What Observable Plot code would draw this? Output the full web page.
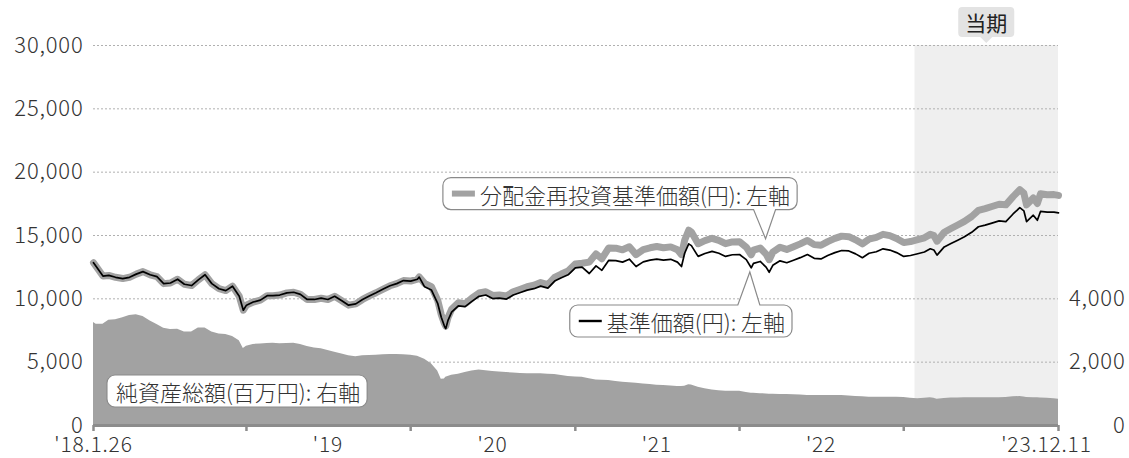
<!DOCTYPE html>
<html><head><meta charset="utf-8">
<script src="https://cdn.jsdelivr.net/npm/d3@7"></script>
<script src="https://cdn.jsdelivr.net/npm/@observablehq/plot@0.6"></script>
<style>
html,body{margin:0;padding:0;background:#fff;}
#chart svg{display:block;}
</style>
</head><body><div id="chart"></div>
<script>
// ---- data ----
const dates = [
  "2018-01-26","2018-02-01","2018-02-16","2018-03-01","2018-03-16","2018-04-01","2018-04-16","2018-05-01","2018-05-16","2018-06-01","2018-06-16","2018-07-01","2018-07-16","2018-08-01","2018-08-16","2018-09-01","2018-09-16","2018-10-01","2018-10-16","2018-11-01","2018-11-16","2018-12-01","2018-12-16","2018-12-25",
  "2019-01-01","2019-01-16","2019-02-01","2019-02-16","2019-03-01","2019-03-16","2019-04-01","2019-04-16","2019-05-01","2019-05-16","2019-06-01","2019-06-16","2019-07-01","2019-07-16","2019-08-01","2019-08-16","2019-09-01","2019-09-16","2019-10-01","2019-10-16","2019-11-01","2019-11-16","2019-12-01","2019-12-16",
  "2020-01-01","2020-01-16","2020-01-20","2020-02-01","2020-02-16","2020-03-01","2020-03-09","2020-03-16","2020-03-19","2020-03-24","2020-04-01","2020-04-16","2020-05-01","2020-05-16","2020-06-01","2020-06-16","2020-07-01","2020-07-16","2020-08-01","2020-08-16","2020-09-01","2020-09-16","2020-10-01","2020-10-16","2020-11-01","2020-11-16","2020-12-01","2020-12-16",
  "2021-01-01","2021-01-16","2021-02-01","2021-02-16","2021-03-01","2021-03-16","2021-04-01","2021-04-16","2021-05-01","2021-05-16","2021-06-01","2021-06-16","2021-07-01","2021-07-16","2021-08-01","2021-08-16","2021-08-25","2021-09-01","2021-09-10","2021-09-16","2021-10-01","2021-10-16","2021-11-01","2021-11-16","2021-12-01","2021-12-16",
  "2022-01-01","2022-01-16","2022-01-27","2022-02-01","2022-02-16","2022-03-01","2022-03-08","2022-03-16","2022-04-01","2022-04-16","2022-05-01","2022-05-16","2022-06-01","2022-06-16","2022-07-01","2022-07-16","2022-08-01","2022-08-16","2022-09-01","2022-09-16","2022-10-01","2022-10-16","2022-11-01","2022-11-16","2022-12-01","2022-12-16",
  "2023-01-01","2023-01-16","2023-02-01","2023-02-16","2023-03-01","2023-03-09","2023-03-16","2023-04-01","2023-04-16","2023-05-01","2023-05-16","2023-06-01","2023-06-16","2023-07-01","2023-07-16","2023-08-01","2023-08-16","2023-09-01","2023-09-16","2023-09-25","2023-10-01","2023-10-16","2023-10-25","2023-11-01","2023-11-16","2023-12-01","2023-12-11"
];
// 基準価額 (円)
const nav = [
  12850,12550,11800,11850,11700,11600,11700,11950,12150,11900,11750,11200,11250,11550,11150,11050,11500,11900,11200,10800,10650,11000,10200,9100,
  9500,9750,9900,10250,10250,10300,10470,10520,10350,9950,9950,10050,9950,10200,9850,9500,9600,9950,10230,10480,10770,11030,11200,11440,
  11400,11550,11720,10950,10700,9650,8550,7850,7650,8300,8950,9450,9380,9800,10200,10300,10020,10060,9980,10300,10500,10690,10800,11000,10850,11400,11670,11900,
  12450,12500,12000,12600,12250,13030,13020,12900,13130,12550,12920,13050,13140,13050,13120,12900,12550,13600,14340,14200,13350,13580,13750,13600,13350,13480,
  13500,13100,12450,12800,12950,12500,12100,12650,13000,12850,13050,13250,13500,13200,13150,13420,13650,13815,13780,13550,13250,13600,13720,13950,13850,13650,
  13350,13420,13560,13700,13950,13850,13450,14100,14370,14630,14900,15250,15690,15820,15980,16150,16100,16700,17200,16950,16100,16600,16200,16900,16840,16850,16790
];
// 分配金再投資基準価額 (円)
const navReinvested = [
  12850,12550,11800,11850,11700,11600,11700,11950,12150,11900,11750,11200,11250,11550,11150,11050,11500,11900,11200,10800,10650,11000,10200,9100,
  9500,9750,9900,10250,10250,10300,10470,10520,10350,9950,9950,10050,9950,10200,9850,9500,9600,9950,10230,10480,10770,11030,11200,11440,
  11400,11550,11720,11220,10970,9890,8760,8050,7840,8510,9170,9690,9610,10050,10460,10560,10270,10310,10230,10560,10760,10960,11070,11280,11120,11690,11960,12200,
  12760,12810,12900,13550,13170,14010,14000,13870,14110,13490,13890,14030,14130,14030,14100,13870,13490,14620,15420,15270,14350,14600,14780,14620,14350,14490,
  14510,14080,13470,13850,14010,13530,13090,13690,14070,13900,14120,14340,14610,14280,14230,14520,14770,14950,14910,14660,14340,14720,14850,15090,14990,14770,
  14440,14520,14670,14820,15090,14990,14550,15260,15550,15830,16120,16500,16980,17120,17290,17470,17420,18070,18610,18340,17420,17960,17530,18290,18220,18230,18170
];
// 純資産総額 (百万円, right axis)
const netAssets = [
  3250,3200,3200,3320,3340,3400,3470,3500,3440,3300,3190,3070,3030,3040,2950,2950,3080,3080,2950,2890,2870,2810,2680,2430,
  2500,2560,2575,2590,2600,2585,2590,2600,2560,2495,2450,2420,2370,2310,2260,2200,2170,2205,2210,2215,2235,2240,2240,2235,
  2220,2190,2160,2090,1950,1720,1460,1470,1520,1550,1585,1620,1670,1720,1755,1730,1705,1690,1672,1657,1645,1635,1633,1633,1620,1612,1580,1550,
  1535,1525,1480,1440,1430,1420,1392,1365,1350,1335,1312,1292,1275,1260,1245,1232,1232,1240,1290,1280,1205,1160,1122,1098,1083,1083,
  1080,1045,1018,1015,1005,998,990,985,979,979,975,960,947,947,947,947,947,947,935,918,905,895,892,894,894,894,
  885,860,845,860,875,860,832,850,865,872,875,875,878,880,880,876,885,905,915,900,885,880,875,872,860,845,830
];
const leftTicks = [0, 5000, 10000, 15000, 20000, 25000, 30000];
const rightTicks = [0, 2000, 4000];
const rightFactor = 2.5; // right axis 4,000 aligns with left 10,000
const xTickDates = ["2018-01-26","2019-01-01","2020-01-01","2021-01-01","2022-01-01","2023-01-01","2023-12-11"];
const xLabelDates = ["2018-01-26","2019-07-01","2020-07-01","2021-07-01","2022-07-01","2023-12-11"];
const xLabels = ["'18.1.26","'19","'20","'21","'22","'23.12.11"];
const periodStart = "2023-01-26", periodEnd = "2023-12-11", periodLabel = "当期";
const notes = [
  {label: "分配金再投資基準価額(円): 左軸", swatch: "#a2a2a2", swatchWidth: 6, at: ["2020-06-04", 18270], tip: ["2022-03-01", 14700], side: "bottom"},
  {label: "基準価額(円): 左軸", swatch: "#000", swatchWidth: 2.4, at: ["2021-03-13", 8210], tip: ["2022-01-25", 12080], side: "top"},
  {label: "純資産総額(百万円): 右軸", at: ["2018-03-18", 2684]}
];

// ---- chart ----
const parse = d3.utcParse("%Y-%m-%d");
const rows = dates.map((d, i) => ({date: parse(d), nav: nav[i], reinv: navReinvested[i], net: netAssets[i]}));
const labelRows = xLabelDates.map((d, i) => ({date: parse(d), label: xLabels[i], end: i === xLabels.length - 1}));
const FONT = "'Noto Sans CJK JP', 'Noto Sans', sans-serif";
const fmt = d3.format(",");

const chart = Plot.plot({
  width: 1129, height: 458,
  marginLeft: 93, marginRight: 71, marginTop: 45, marginBottom: 33,
  style: {fontFamily: FONT, fontSize: "22px", fontWeight: 300, letterSpacing: "0.8px", color: "#333", background: "#fff", overflow: "visible"},
  x: {type: "utc", domain: [parse(dates[0]), parse(dates[dates.length - 1])]},
  y: {domain: [0, 30000]},
  marks: [
    Plot.rect([{s: parse(periodStart), e: parse(periodEnd)}], {x1: "s", x2: "e", y1: 0, y2: 30000, fill: "#efefef"}),
    Plot.gridY(leftTicks.filter(d => d > 0), {stroke: "#b0b0b0", strokeOpacity: 1, strokeDasharray: "2,2", strokeWidth: 1}),
    Plot.areaY(rows, {x: "date", y: d => d.net * rightFactor, fill: "#a2a2a2"}),
    Plot.lineY(rows, {x: "date", y: "reinv", stroke: "#a2a2a2", strokeWidth: 7, strokeLinejoin: "round"}),
    Plot.lineY(rows, {x: "date", y: "nav", stroke: "#000", strokeWidth: 1.7, strokeLinejoin: "round"}),
    Plot.ruleY([0], {stroke: "#8c8c8c", strokeWidth: 3}),
    Plot.axisX(xTickDates.map(parse), {tickSize: 6, tickFormat: () => "", stroke: "#8c8c8c", strokeWidth: 2.5, label: null}),
    Plot.text(labelRows.filter(d => !d.end), {x: "date", text: "label", frameAnchor: "bottom", dy: 26, fontSize: 21, fill: "#333"}),
    Plot.text(labelRows.filter(d => d.end), {x: "date", text: "label", frameAnchor: "bottom", dy: 26, dx: -12, fontSize: 21, fill: "#333"}),
    Plot.axisY(leftTicks, {tickSize: 0, tickPadding: 10, tickFormat: fmt, fontSize: 22, label: null, fill: "#333"}),
    Plot.text(rightTicks, {y: d => d * rightFactor, text: d => fmt(d), frameAnchor: "right", dx: 67, textAnchor: "end", fontSize: 22, fill: "#333"})
  ]
});
document.getElementById("chart").append(chart);

// ---- callouts (positioned through the chart's scales) ----
const X = chart.scale("x"), Y = chart.scale("y");
const svg = d3.select(chart);
const g = svg.append("g").attr("font-family", FONT).attr("text-anchor", "start").attr("letter-spacing", "0px");

function bubble(x0, y0, x1, y1, r, p) {
  let s = `M${x0 + r},${y0}`;
  if (p && p.side === "top") s += `L${p.b0},${y0}L${p.tx},${p.ty}L${p.b1},${y0}`;
  s += `L${x1 - r},${y0}A${r},${r} 0 0 1 ${x1},${y0 + r}L${x1},${y1 - r}A${r},${r} 0 0 1 ${x1 - r},${y1}`;
  if (p && p.side === "bottom") s += `L${p.b1},${y1}L${p.tx},${p.ty}L${p.b0},${y1}`;
  s += `L${x0 + r},${y1}A${r},${r} 0 0 1 ${x0},${y1 - r}L${x0},${y0 + r}A${r},${r} 0 0 1 ${x0 + r},${y0}Z`;
  return s;
}

notes.forEach(n => {
  const tx = X.apply(parse(n.at[0])), ty = Y.apply(n.at[1]);
  const grp = g.append("g");
  const path = grp.append("path");
  const t = grp.append("text").attr("x", tx).attr("y", ty).attr("text-anchor", "start")
    .attr("dominant-baseline", "central").attr("font-size", 22).attr("font-weight", 300)
    .attr("fill", "#333").text(n.label);
  const bb = t.node().getBBox();
  const padL = n.swatch ? 37 : 9;
  const x0 = bb.x - padL, x1 = bb.x + bb.width + 7, y0 = ty - 16, y1 = ty + 16;
  let p = null;
  if (n.tip) {
    const px = X.apply(parse(n.tip[0])), py = Y.apply(n.tip[1]);
    p = {side: n.side, tx: px, ty: py, b0: px - 12, b1: px + 10};
  }
  path.attr("d", bubble(x0, y0, x1, y1, 8, p)).attr("fill", "#fff").attr("stroke", "#8a8a8a").attr("stroke-width", 1.2);
  if (n.swatch) {
    grp.append("line").attr("x1", x0 + 9).attr("x2", x0 + 32).attr("y1", ty).attr("y2", ty)
      .attr("stroke", n.swatch).attr("stroke-width", n.swatchWidth);
  }
});

// 当期 label
{
  const cx = (X.apply(parse(periodStart)) + X.apply(parse(periodEnd))) / 2;
  const top = Y.apply(30000);
  const cy = top - 23;
  const grp = g.append("g");
  const path = grp.append("path");
  const t = grp.append("text").attr("x", cx).attr("y", cy).attr("text-anchor", "middle")
    .attr("dominant-baseline", "central").attr("font-size", 21).attr("font-weight", 400)
    .attr("fill", "#222").text(periodLabel);
  const bb = t.node().getBBox();
  const x0 = bb.x - 7, x1 = bb.x + bb.width + 7, y0 = cy - 15, y1 = cy + 15;
  path.attr("d", bubble(x0, y0, x1, y1, 4, {side: "bottom", tx: cx, ty: top - 2, b0: cx - 6, b1: cx + 6}))
    .attr("fill", "#e3e3e3");
}
</script>
</body></html>
